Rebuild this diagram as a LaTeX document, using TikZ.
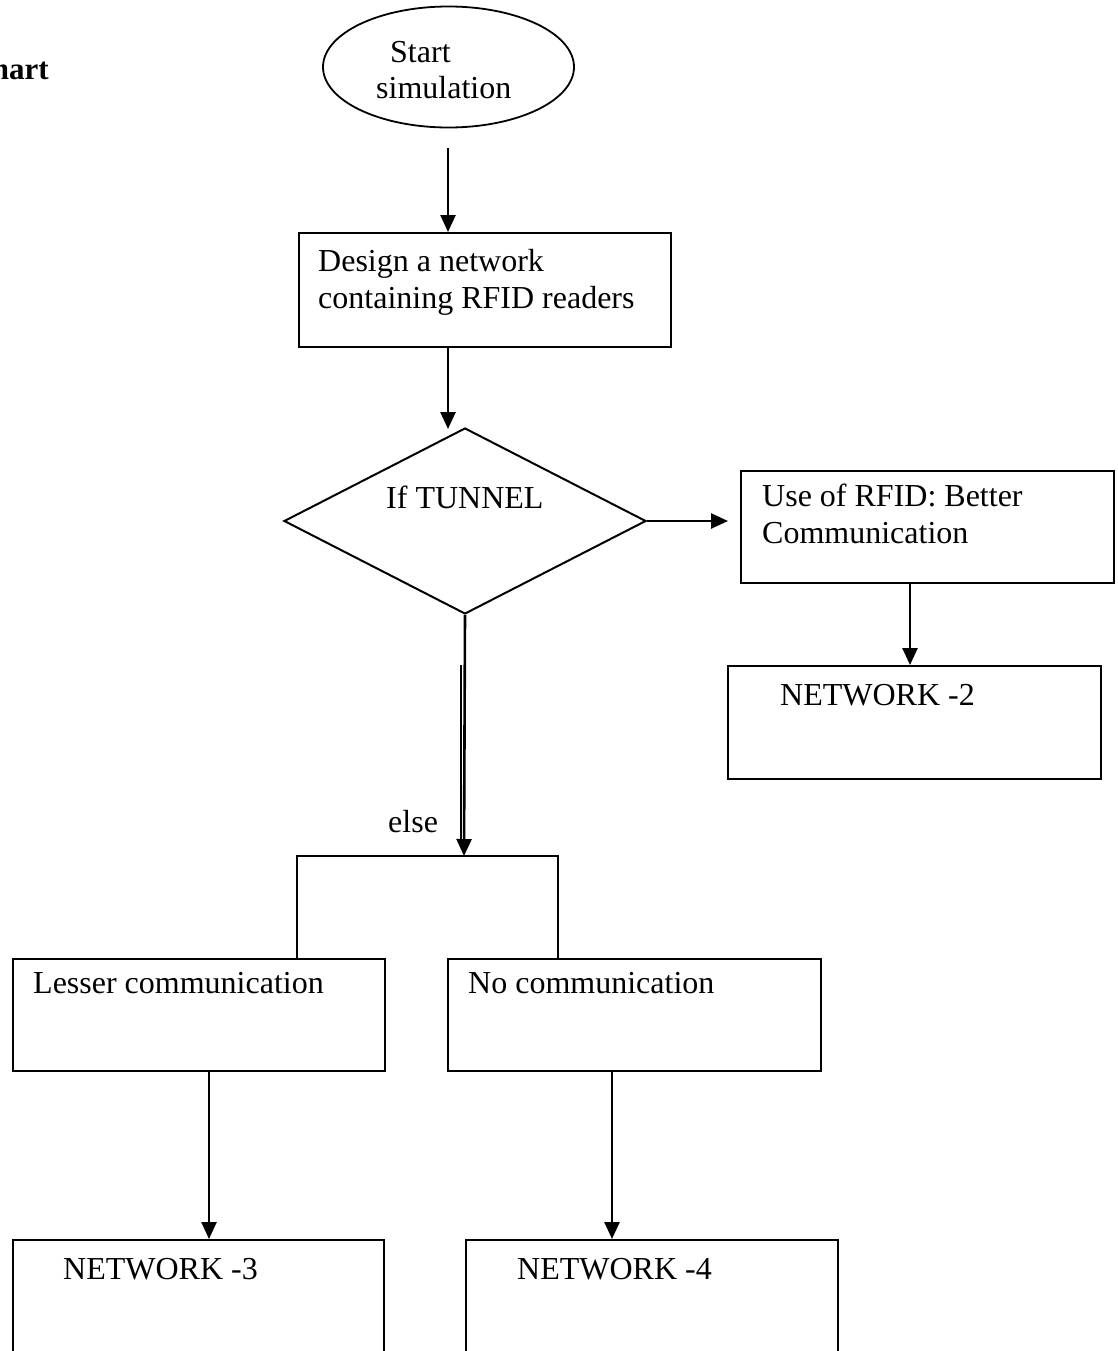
\documentclass[tikz,border=0pt]{standalone}
\usepackage{fontspec}
\setmainfont{Liberation Serif}
\usetikzlibrary{shapes.geometric,arrows.meta}
\begin{document}
\begin{tikzpicture}[x=1pt,y=-1pt,
  box/.style 2 args={draw, rectangle, line width=2pt, inner sep=0pt,
    minimum width=#1, minimum height=#2, anchor=north west},
  % base west of a two-line text sits on its last line
  txt/.style={anchor=base west, inner sep=0pt, align=left,
    font=\fontsize{32}{36.5}\selectfont},
  arr/.style={line width=2.6pt, -{Triangle[length=17pt,width=15pt]}},
  thin/.style={line width=1.6pt}]
\useasboundingbox (0,0) rectangle (1118,1351);

% heading, cut at the left edge
\node[anchor=base east, inner sep=0pt, font=\fontsize{31}{36}\selectfont\bfseries]
  (head) at (49,80) {Flowchart};

% start terminal
\node[draw, ellipse, line width=1.8pt, minimum width=251pt, minimum height=121pt,
  inner sep=0pt] (start) at (448.5,67) {};
\node[txt] (starttxt) at (376,99) {\hspace*{14pt}Start\\simulation};

% design step
\node[box={372pt}{114pt}] (design) at (298,232) {};
\node[txt] (designtxt) at (318,308) {Design a network\\containing RFID readers};

% decision
\node[draw, diamond, line width=2pt, inner sep=0pt, minimum width=362pt,
  minimum height=186pt] (dec) at (465,521) {};
\node[txt] (dectxt) at (386,508) {If TUNNEL};

% tunnel branch
\node[box={373pt}{112pt}] (rfid) at (740,470) {};
\node[txt] (rfidtxt) at (762,543) {Use of RFID: Better\\Communication};
\node[box={373pt}{113pt}] (net2) at (727,665) {};
\node[txt] (net2txt) at (780,705) {NETWORK -2};

% else branch
\node[box={372pt}{112pt}] (lesser) at (12,958) {};
\node[txt] (lessertxt) at (33,993) {Lesser communication};
\node[box={373pt}{112pt}] (nocomm) at (447,958) {};
\node[txt] (nocommtxt) at (468,993) {No communication};
\node[box={371pt}{160pt}] (net3) at (12,1239) {};
\node[txt] (net3txt) at (63,1279) {NETWORK -3};
\node[box={372pt}{160pt}] (net4) at (465,1239) {};
\node[txt] (net4txt) at (517,1279) {NETWORK -4};
\node[txt] (elsetxt) at (388,832) {else};

% connector positions
\coordinate (c1) at (448,148);
\coordinate (c2) at (448,0);
\coordinate (c3) at (910,0);
\coordinate (c4) at (209,0);
\coordinate (c5) at (612,0);
\coordinate (join) at (464,856);
\coordinate (dup) at (461,665);
\coordinate (dupend) at (461,842);
\coordinate (bl) at (297,856);
\coordinate (br) at (558,856);

% connectors
\draw[arr] (c1) -- (design.north -| c1);
\draw[arr] (design.south -| c2) -- ([yshift=-2pt]dec.north -| c2);
\draw[arr, shorten >=12pt] (dec.east) -- (rfid.west |- dec.east);
\draw[arr] (rfid.south -| c3) -- (net2.north -| c3);
\draw[arr] (dec.south) -- (join);
\draw[line width=2.6pt] (dup) -- (dupend);
\draw[thin] (lesser.north -| bl) -- (bl) -- (br) -- (nocomm.north -| br);
\draw[arr] (lesser.south -| c4) -- (net3.north -| c4);
\draw[arr] (nocomm.south -| c5) -- (net4.north -| c5);
\end{tikzpicture}
\end{document}
